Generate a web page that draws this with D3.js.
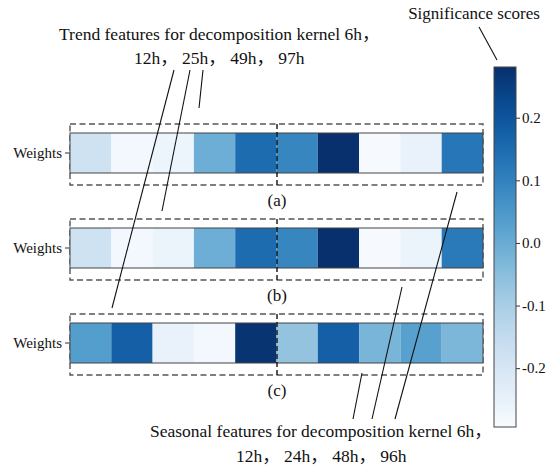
<!DOCTYPE html>
<html lang="zh-CN">
<head>
<meta charset="utf-8">
<script src="https://cdn.jsdelivr.net/npm/d3@7"></script>
<style>
  body { margin: 0; background: #fff; }
</style>
</head>
<body>
<div id="chart"></div>
<script>
(function() {
  var width = 552, height = 468;
  var serif = "'Liberation Serif', 'Times New Roman', 'Noto Sans CJK SC', serif";

  // significance scores per cell (10 cells per row)
  var rowA = [-0.18, -0.28, -0.265, -0.006, 0.149, 0.09, 0.28, -0.29, -0.255, 0.126];
  var rowB = [-0.18, -0.28, -0.262, -0.006, 0.149, 0.09, 0.28, -0.29, -0.262, 0.12];
  var rowC = [0.034, 0.177, -0.254, -0.28, 0.272, -0.064, 0.177, -0.024, 0.028, -0.03];
  var rowNames = ["(a)", "(b)", "(c)"];
  var cbTicks = [-0.2, -0.1, 0.0, 0.1, 0.2];
  var cbDomain = [-0.294, 0.281];

  var rows = [rowA, rowB, rowC];

  var svg = d3.select("#chart")
    .append("svg")
    .attr("width", width)
    .attr("height", height);

  var xPositionScale = d3.scaleBand().domain(d3.range(10)).range([70, 483]).padding(0);
  var rowTopScale = d3.scaleOrdinal().domain([0, 1, 2]).range([133, 228, 323]);
  var cellH = 40;
  var colorScale = d3.scaleSequential(d3.interpolateBlues).domain(cbDomain);

  // heatmap rows
  rows.forEach(function(row, i) {
    var top = rowTopScale(i);
    var g = svg.append("g").attr("class", "row");

    // dashed outer box
    g.append("rect")
      .attr("x", 70).attr("y", top - 9)
      .attr("width", 413).attr("height", cellH + 21)
      .attr("fill", "none")
      .attr("stroke", "#555")
      .attr("stroke-width", 1.4)
      .attr("stroke-dasharray", "6,3.5");

    g.selectAll("rect.cell")
      .data(row)
      .enter().append("rect")
      .attr("class", "cell")
      .attr("x", function(d, j) { return xPositionScale(j); })
      .attr("y", top)
      .attr("width", xPositionScale.bandwidth())
      .attr("height", cellH)
      .attr("fill", function(d) { return colorScale(d); });

    g.append("rect")
      .attr("x", 70).attr("y", top)
      .attr("width", 413).attr("height", cellH)
      .attr("fill", "none")
      .attr("stroke", "#444")
      .attr("stroke-width", 1);

    // middle dashed separator
    g.append("line")
      .attr("x1", 277).attr("x2", 277)
      .attr("y1", top - 9).attr("y2", top + cellH + 12)
      .attr("stroke", "#111")
      .attr("stroke-width", 1.4)
      .attr("stroke-dasharray", "5,3");

    // y tick + label
    g.append("line")
      .attr("x1", 65).attr("x2", 70)
      .attr("y1", top + cellH / 2).attr("y2", top + cellH / 2)
      .attr("stroke", "#333");
    g.append("text")
      .attr("x", 62).attr("y", top + cellH / 2 + 5)
      .attr("text-anchor", "end")
      .style("font-family", serif)
      .style("font-size", "15px")
      .attr("fill", "#111")
      .text("Weights");

    g.append("text")
      .attr("x", 277).attr("y", top + cellH + 33)
      .attr("text-anchor", "middle")
      .style("font-family", serif)
      .style("font-size", "17px")
      .attr("fill", "#111")
      .text(rowNames[i]);
  });

  // colorbar
  var cbX = 494, cbW = 22;
  var cbScale = d3.scaleLinear().domain(cbDomain).range([427, 67]);
  var defs = svg.append("defs");
  var grad = defs.append("linearGradient")
    .attr("id", "cbgrad")
    .attr("x1", 0).attr("y1", 1).attr("x2", 0).attr("y2", 0);
  d3.range(0, 1.0001, 0.05).forEach(function(t) {
    grad.append("stop")
      .attr("offset", t)
      .attr("stop-color", d3.interpolateBlues(t));
  });
  svg.append("rect")
    .attr("x", cbX).attr("y", 67)
    .attr("width", cbW).attr("height", 360)
    .attr("fill", "url(#cbgrad)")
    .attr("stroke", "#444")
    .attr("stroke-width", 1);

  var cbAxis = d3.axisRight(cbScale)
    .tickValues(cbTicks)
    .tickFormat(function(d) { return d3.format(".1f")(d).replace("\u2212", "-"); })
    .tickSize(4)
    .tickSizeOuter(0);
  var cbG = svg.append("g")
    .attr("transform", "translate(" + (cbX + cbW) + ",0)")
    .call(cbAxis);
  cbG.select(".domain").remove();
  cbG.selectAll("line").attr("stroke", "#333");
  cbG.selectAll("text")
    .style("font-size", "15px")
    .style("font-family", serif)
    .attr("fill", "#111")
    .attr("x", 6);

  // annotations
  function addText(x, y, str, anchor, size) {
    svg.append("text")
      .attr("x", x).attr("y", y)
      .attr("text-anchor", anchor || "start")
      .style("font-family", serif)
      .style("font-size", (size || 17.5) + "px")
      .attr("fill", "#111")
      .text(str);
  }
  function addLine(x1, y1, x2, y2) {
    svg.append("line")
      .attr("x1", x1).attr("y1", y1).attr("x2", x2).attr("y2", y2)
      .attr("stroke", "#111").attr("stroke-width", 1.1);
  }

  addText(474, 19, "Significance scores", "middle", 17);
  addLine(479, 27, 497, 60);

  addText(59, 40, "Trend features for decomposition kernel 6h，");
  addText(134, 64, "12h， 25h， 49h， 97h");
  addLine(174, 70, 112, 308);
  addLine(190, 70, 162, 211);
  addLine(203, 70, 199, 108);

  addText(150, 437, "Seasonal features for decomposition kernel 6h，");
  addText(236, 462, "12h， 24h， 48h， 96h");
  addLine(353, 419, 362, 373);
  addLine(372, 419, 402, 287);
  addLine(395, 419, 457, 192);
})();
</script>
</body>
</html>
